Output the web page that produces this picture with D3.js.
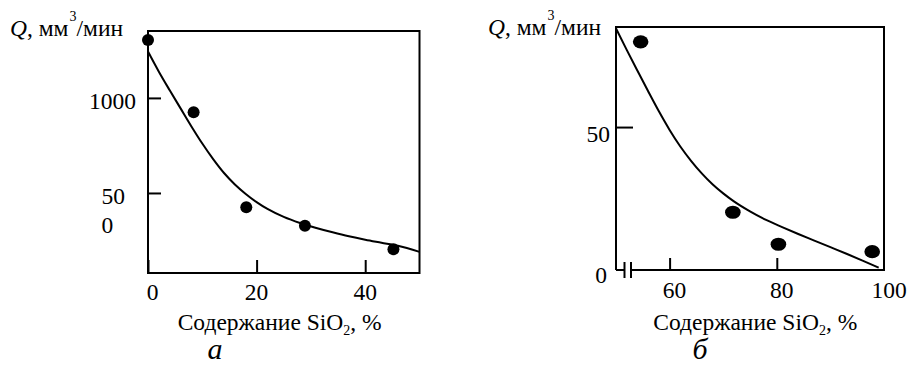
<!DOCTYPE html>
<html>
<head>
<meta charset="utf-8">
<script src="https://cdn.jsdelivr.net/npm/d3@7"></script>
<style>
  html, body { margin: 0; padding: 0; background: #fff; }
  svg { display: block; }
</style>
</head>
<body>
<svg id="chart" width="909" height="366"></svg>
<script>
// ---------- Data: panel "а" ----------
const aPointsX = [0, 8.4, 18.1, 28.9, 45.2];
const aPointsY = [1305, 925, 425, 328, 204];
const aCurveX = [0, 2, 4, 6, 8, 10, 12, 14, 16, 18, 20, 22, 25, 28, 31, 34, 37, 40, 43, 46, 50];
const aCurveY = [1244, 1138, 1040, 945, 850, 760, 678, 605, 545, 495, 452, 416, 374, 342, 316, 293, 272, 254, 238, 222, 190];
const aXTicks = [0, 20, 40];
const aYTicks = [1000, 500];

// ---------- Data: panel "б" ----------
const bPointsX = [54.6, 71.8, 80.3, 97.8];
const bPointsY = [79.8, 20.2, 9.0, 6.4];
const bCurveX = [50, 52, 54, 56, 58, 60, 62, 64, 66, 68, 70, 72, 75, 78, 81, 84, 87, 90, 93, 96, 99];
const bCurveY = [84.5, 77.0, 69.7, 62.5, 55.5, 49.0, 43.2, 38.2, 33.8, 30.0, 26.8, 24.0, 20.5, 17.5, 15.0, 12.6, 10.3, 8.0, 5.7, 3.3, 0.8];
const bXTicks = [60, 80];
const bXTickLabels = ["60", "80", "100"];
const bXLabelValues = [60, 80, 100];
const bYTicks = [50];

const yTitle = ["Q", ", мм", "3", "/мин"];
const xTitle = ["Содержание SiO", "2", ", %"];

const FONT = '"Liberation Serif", "Times New Roman", Times, Tinos, "DejaVu Serif", "Noto Serif", serif';
const svg = d3.select("#chart");
const FS = 23.5;

function drawPanel(g, xs, ys, curveX, curveY, ptX, ptY, rx, ry) {
  const line = d3.line().x(d => xs(d[0])).y(d => ys(d[1])).curve(d3.curveMonotoneX);
  g.append("path")
    .attr("d", line(curveX.map((v, i) => [v, curveY[i]])))
    .attr("fill", "none").attr("stroke", "#000").attr("stroke-width", 2);
  g.selectAll("ellipse.pt").data(ptX.map((v, i) => [v, ptY[i]])).enter()
    .append("ellipse").attr("class", "pt")
    .attr("cx", d => xs(d[0])).attr("cy", d => ys(d[1]))
    .attr("rx", rx).attr("ry", ry).attr("fill", "#000");
}

function txt(g) {
  return g.append("text").style("font-family", FONT).attr("fill", "#000");
}

function titleY(g, x, y) {
  const t = txt(g).attr("x", x).attr("y", y).attr("font-size", FS);
  t.append("tspan").attr("font-style", "italic").text(yTitle[0]);
  t.append("tspan").text(yTitle[1]);
  t.append("tspan").attr("font-size", 14).attr("dy", -15).attr("dx", 1).text(yTitle[2]);
  t.append("tspan").attr("dy", 15).text(yTitle[3]);
}
function titleX(g, x, y) {
  const t = txt(g).attr("x", x).attr("y", y).attr("font-size", FS);
  t.append("tspan").text(xTitle[0]);
  t.append("tspan").attr("font-size", 14).attr("dy", 5).text(xTitle[1]);
  t.append("tspan").attr("dy", -5).text(xTitle[2]);
}

// ---------- Panel а ----------
{
  const xs = d3.scaleLinear([0, 50], [148, 419.5]);
  const ys = d3.scaleLinear([79, 1352], [273, 31]);
  const g = svg.append("g");
  const [x0, x1] = xs.range(), [yb, yt] = ys.range();
  g.append("rect").attr("x", x0).attr("y", yt).attr("width", x1 - x0).attr("height", yb - yt)
    .attr("fill", "none").attr("stroke", "#000").attr("stroke-width", 2);
  const ax = g.append("g").attr("transform", `translate(0,${yb})`)
    .call(d3.axisBottom(xs).tickValues(aXTicks).tickSize(-13).tickFormat(""));
  const ay = g.append("g").attr("transform", `translate(${x0},0)`)
    .call(d3.axisLeft(ys).tickValues(aYTicks).tickSize(-13).tickFormat(""));
  [ax, ay].forEach(a => { a.select(".domain").remove(); a.selectAll("line").attr("stroke", "#000").attr("stroke-width", 2); });

  drawPanel(g, xs, ys, aCurveX, aCurveY, aPointsX, aPointsY, 6, 6);

  aXTicks.forEach(d => txt(g).attr("x", xs(d) + (d === 0 ? 4.5 : 0)).attr("y", yb + 27)
    .attr("text-anchor", "middle").attr("font-size", FS).text(d));
  txt(g).attr("x", x0 - 12).attr("y", ys(1000) + 11).attr("text-anchor", "end")
    .attr("font-size", FS).text("1000");
  // "500" broken into two lines as in the original
  const t5 = txt(g).attr("x", x0 - 46.5).attr("y", ys(500) + 11).attr("font-size", FS);
  t5.append("tspan").text("50");
  t5.append("tspan").attr("x", x0 - 46.5).attr("dy", 29).text("0");

  titleY(g, 10, 36);
  titleX(g, 177.7, 330);
  txt(g).attr("x", 215).attr("y", 359).attr("text-anchor", "middle")
    .attr("font-size", 30).attr("font-style", "italic").text("а");
}

// ---------- Panel б ----------
{
  const xs = d3.scaleLinear([50, 100], [616, 884]);
  const ys = d3.scaleLinear([0, 85], [270, 27]);
  const g = svg.append("g");
  const [x0, x1] = xs.range(), [yb, yt] = ys.range();
  g.append("path")
    .attr("d", `M${x0},${yb} L${x0},${yt} L${x1},${yt} L${x1},${yb} L${x0 + 15},${yb} M${x0 + 8.5},${yb} L${x0},${yb}`)
    .attr("fill", "none").attr("stroke", "#000").attr("stroke-width", 2);
  [8.5, 15].forEach(dx => g.append("line")
    .attr("x1", x0 + dx).attr("x2", x0 + dx).attr("y1", yb - 8).attr("y2", yb + 8)
    .attr("stroke", "#000").attr("stroke-width", 2));
  const ax = g.append("g").attr("transform", `translate(0,${yb})`)
    .call(d3.axisBottom(xs).tickValues(bXTicks).tickSize(-12).tickFormat(""));
  const ay = g.append("g").attr("transform", `translate(${x0},0)`)
    .call(d3.axisLeft(ys).tickValues(bYTicks).tickSize(-17).tickFormat(""));
  [ax, ay].forEach(a => { a.select(".domain").remove(); a.selectAll("line").attr("stroke", "#000").attr("stroke-width", 2); });

  drawPanel(g, xs, ys, bCurveX, bCurveY, bPointsX, bPointsY, 7.8, 6.6);

  bXLabelValues.forEach((d, i) => txt(g).attr("x", xs(d) + 5).attr("y", yb + 28)
    .attr("text-anchor", "middle").attr("font-size", FS).text(bXTickLabels[i]));
  txt(g).attr("x", x0 - 6).attr("y", ys(50) + 14.5).attr("text-anchor", "end")
    .attr("font-size", FS).text("50");
  txt(g).attr("x", x0 - 9).attr("y", ys(0) + 13).attr("text-anchor", "end")
    .attr("font-size", FS).text("0");

  titleY(g, 488, 35);
  titleX(g, 653.3, 330);
  txt(g).attr("x", 700).attr("y", 359).attr("text-anchor", "middle")
    .attr("font-size", 30).attr("font-style", "italic").text("б");
}
</script>
</body>
</html>
